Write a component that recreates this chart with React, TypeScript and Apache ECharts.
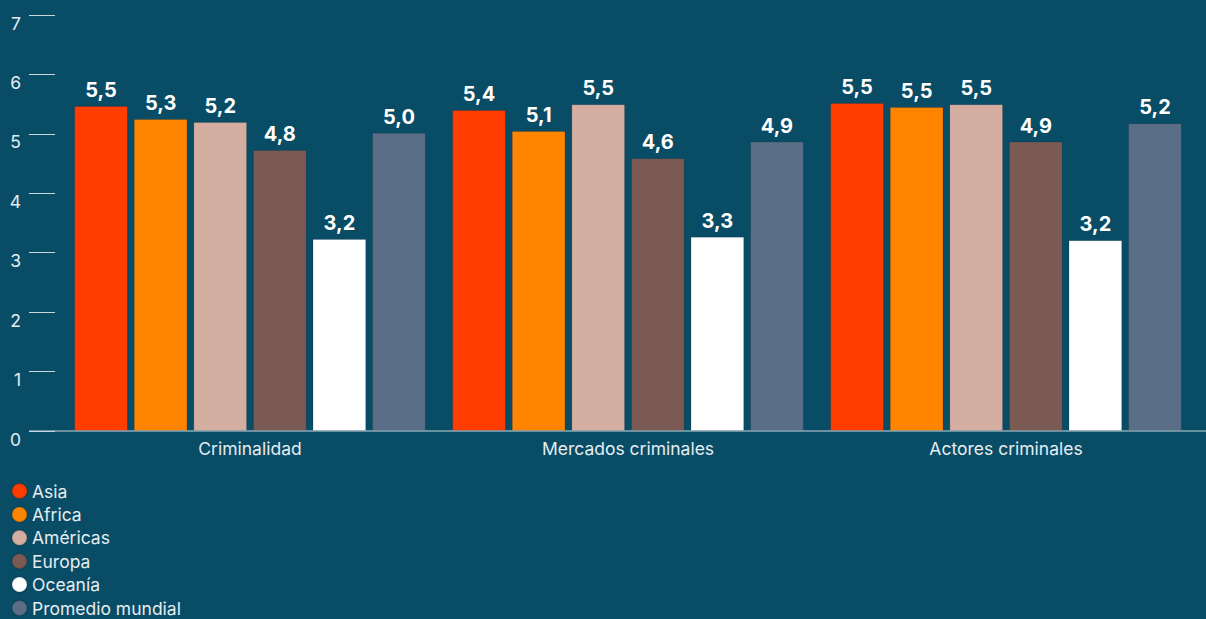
import React, { useEffect, useRef } from "react";
import * as echarts from "echarts";

const categories = ["Criminalidad", "Mercados criminales", "Actores criminales"];
const seriesNames = ["Asia", "Africa", "Américas", "Europa", "Oceanía", "Promedio mundial"];
const seriesColors = ["#ff3d00", "#ff8500", "#d5aea2", "#7c5a54", "#ffffff", "#5a6e87"];
// bar heights
const asia = [5.47, 5.4, 5.52];
const africa = [5.25, 5.05, 5.45];
const americas = [5.2, 5.5, 5.5];
const europa = [4.73, 4.59, 4.87];
const oceania = [3.23, 3.27, 3.21];
const promedio = [5.02, 4.87, 5.18];
// printed labels
const asiaLabels = ["5,5", "5,4", "5,5"];
const africaLabels = ["5,3", "5,1", "5,5"];
const americasLabels = ["5,2", "5,5", "5,5"];
const europaLabels = ["4,8", "4,6", "4,9"];
const oceaniaLabels = ["3,2", "3,3", "3,2"];
const promedioLabels = ["5,0", "4,9", "5,2"];
const yTicks = [0, 1, 2, 3, 4, 5, 6, 7];

const seriesValues = [asia, africa, americas, europa, oceania, promedio];
const seriesLabels = [asiaLabels, africaLabels, americasLabels, europaLabels, oceaniaLabels, promedioLabels];

const BG = "#094c66";
const FONT = "Inter, 'Noto Sans', sans-serif";

export default function App() {
  const ref = useRef<HTMLDivElement>(null);
  useEffect(() => {
    document.body.style.margin = "0";
    document.body.style.background = BG;
    if (!ref.current) return;
    const chart = echarts.init(ref.current, undefined, { renderer: "svg" });
    chart.setOption({
      animation: false,
      backgroundColor: BG,
      textStyle: { fontFamily: FONT },
      grid: { left: 61, right: 11, top: 15, bottom: 188, containLabel: false },
      legend: {
        orient: "vertical",
        left: 11,
        top: 482,
        height: 160,
        padding: 0,
        icon: "circle",
        itemWidth: 15,
        itemHeight: 15,
        itemGap: 5.4,
        data: seriesNames,
        textStyle: { color: "#e6edf1", fontSize: 17.5, fontFamily: FONT },
      },
      xAxis: {
        type: "category",
        data: categories,
        axisLine: { show: false },
        axisTick: { show: false },
        axisLabel: { color: "#e6edf1", fontSize: 17.5, margin: 8, fontFamily: FONT },
      },
      yAxis: {
        type: "value",
        min: yTicks[0],
        max: yTicks[yTicks.length - 1],
        interval: 1,
        offset: 6,
        axisLine: { show: false },
        axisTick: { show: true, length: 26, lineStyle: { color: "#c9d6dd", width: 1 } },
        splitLine: { show: false },
        axisLabel: {
          color: "#e6edf1",
          fontSize: 17.5,
          margin: 34,
          verticalAlign: "top",
          padding: [-1, 0, 0, 0],
          fontFamily: FONT,
        },
      },
      graphic: [
        {
          type: "line",
          shape: { x1: 29, y1: 431, x2: 1206, y2: 431 },
          style: { stroke: "#c9d6dd", lineWidth: 1 },
          z: 10,
        },
      ],
      series: seriesNames.map((name, i) => ({
        name,
        type: "bar",
        data: seriesValues[i],
        barCategoryGap: "7%",
        barGap: "11%",
        itemStyle: { color: seriesColors[i], borderColor: "rgba(0,0,0,0.12)", borderWidth: 1 },
        label: {
          show: true,
          position: "top",
          distance: 6,
          color: "#ffffff",
          fontSize: 20,
          fontWeight: "bold",
          fontFamily: FONT,
          formatter: (p: any) => seriesLabels[i][p.dataIndex],
        },
      })),
    });
    return () => chart.dispose();
  }, []);
  return <div ref={ref} style={{ position: "fixed", left: 0, top: 0, width: 1206, height: 619 }} />;
}
